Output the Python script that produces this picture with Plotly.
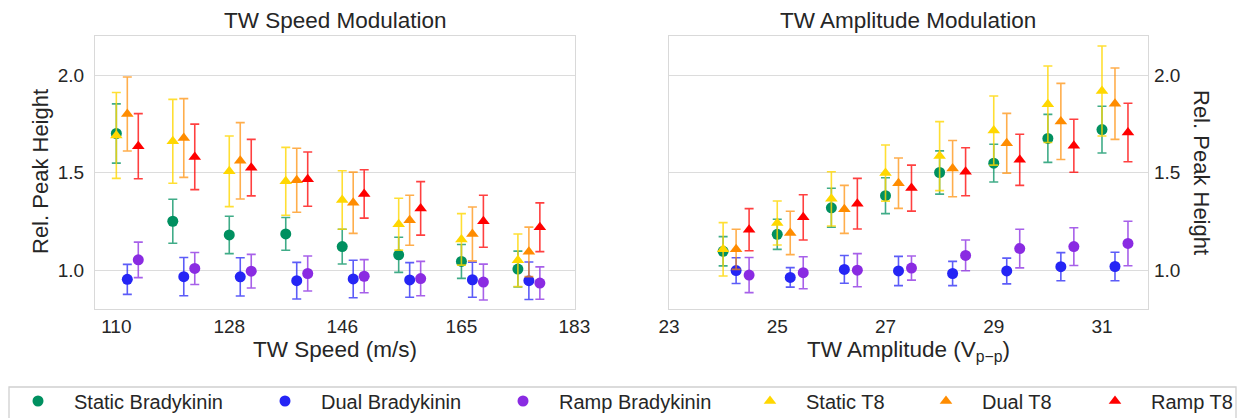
import plotly.graph_objects as go

# ---------------- data ----------------
speeds = [110, 119, 128, 137, 146, 155, 165, 174]
amplitudes = [24, 25, 26, 27, 28, 29, 30, 31]

speed_ticks = [110, 128, 146, 165, 183]
amp_ticks = [23, 25, 27, 29, 31]
y_ticks = [1.0, 1.5, 2.0]

series_names = ["Static Bradykinin", "Dual Bradykinin", "Ramp Bradykinin",
                "Static T8", "Dual T8", "Ramp T8"]

# TW speed modulation (mean, error)
static_bk_speed = [1.70, 1.25, 1.18, 1.185, 1.12, 1.078, 1.044, 1.005]
static_bk_speed_err = [0.152, 0.113, 0.096, 0.084, 0.089, 0.090, 0.087, 0.092]
dual_bk_speed = [0.952, 0.966, 0.965, 0.945, 0.954, 0.949, 0.950, 0.945]
dual_bk_speed_err = [0.077, 0.098, 0.098, 0.094, 0.096, 0.089, 0.090, 0.096]
ramp_bk_speed = [1.052, 1.008, 0.994, 0.982, 0.968, 0.956, 0.938, 0.933]
ramp_bk_speed_err = [0.091, 0.082, 0.086, 0.090, 0.085, 0.088, 0.092, 0.083]
static_t8_speed = [1.69, 1.66, 1.506, 1.455, 1.359, 1.235, 1.157, 1.05]
static_t8_speed_err = [0.220, 0.215, 0.181, 0.174, 0.150, 0.133, 0.132, 0.135]
dual_t8_speed = [1.80, 1.677, 1.56, 1.46, 1.345, 1.255, 1.185, 1.093]
dual_t8_speed_err = [0.190, 0.202, 0.196, 0.164, 0.157, 0.128, 0.138, 0.127]
ramp_t8_speed = [1.635, 1.58, 1.525, 1.466, 1.39, 1.316, 1.25, 1.219]
ramp_t8_speed_err = [0.167, 0.168, 0.145, 0.139, 0.124, 0.137, 0.133, 0.125]

# TW amplitude modulation (mean, error)
static_bk_amp = [1.096, 1.183, 1.319, 1.381, 1.50, 1.548, 1.675, 1.72]
static_bk_amp_err = [0.075, 0.077, 0.100, 0.092, 0.111, 0.097, 0.123, 0.120]
dual_bk_amp = [0.997, 0.962, 1.003, 0.995, 0.982, 0.995, 1.017, 1.018]
dual_bk_amp_err = [0.066, 0.050, 0.071, 0.075, 0.062, 0.066, 0.072, 0.073]
ramp_bk_amp = [0.974, 0.986, 0.999, 1.010, 1.075, 1.110, 1.120, 1.136]
ramp_bk_amp_err = [0.090, 0.082, 0.085, 0.062, 0.079, 0.099, 0.097, 0.114]
static_t8_amp = [1.106, 1.241, 1.365, 1.497, 1.584, 1.715, 1.85, 1.918]
static_t8_amp_err = [0.137, 0.113, 0.139, 0.144, 0.177, 0.177, 0.196, 0.231]
dual_t8_amp = [1.106, 1.19, 1.311, 1.445, 1.52, 1.65, 1.762, 1.853]
dual_t8_amp_err = [0.103, 0.111, 0.123, 0.129, 0.144, 0.153, 0.195, 0.183]
ramp_t8_amp = [1.207, 1.27, 1.34, 1.42, 1.504, 1.565, 1.637, 1.705]
ramp_t8_amp_err = [0.108, 0.116, 0.130, 0.118, 0.123, 0.131, 0.136, 0.150]

# ---------------- style ----------------
W, H = 1245, 418
FONT = "Liberation Sans, Arial, sans-serif"
TXT = "#262626"
colors = ["#009060", "#2525f5", "#8a2be2", "#ffd700", "#ff8c00", "#ff0000"]
err_colors = ["rgba(0,144,96,0.75)", "rgba(37,37,245,0.75)", "rgba(138,43,226,0.75)",
              "rgba(255,215,0,0.8)", "rgba(255,140,0,0.7)", "rgba(255,0,0,0.75)"]
symbols = ["circle", "circle", "circle", "triangle-up", "triangle-up", "triangle-up"]
speed_offsets = [0.0, 1.75, 3.5, 0.0, 1.75, 3.5]
amp_offsets = [0.0, 0.24, 0.48, 0.0, 0.24, 0.48]

speed_vals = [static_bk_speed, dual_bk_speed, ramp_bk_speed,
              static_t8_speed, dual_t8_speed, ramp_t8_speed]
speed_errs = [static_bk_speed_err, dual_bk_speed_err, ramp_bk_speed_err,
              static_t8_speed_err, dual_t8_speed_err, ramp_t8_speed_err]
amp_vals = [static_bk_amp, dual_bk_amp, ramp_bk_amp,
            static_t8_amp, dual_t8_amp, ramp_t8_amp]
amp_errs = [static_bk_amp_err, dual_bk_amp_err, ramp_bk_amp_err,
            static_t8_amp_err, dual_t8_amp_err, ramp_t8_amp_err]

legend_ids = ["legend", "legend2", "legend3", "legend4", "legend5", "legend6"]
legend_marker_px = [38, 285, 523, 770, 946, 1115]

fig = go.Figure()
for i, name in enumerate(series_names):
    for panel in range(2):
        xs = speeds if panel == 0 else amplitudes
        off = speed_offsets[i] if panel == 0 else amp_offsets[i]
        vals = speed_vals[i] if panel == 0 else amp_vals[i]
        errs = speed_errs[i] if panel == 0 else amp_errs[i]
        fig.add_trace(go.Scatter(
            x=[v + off for v in xs], y=vals,
            mode="markers", name=name,
            marker=dict(symbol=symbols[i], size=11, color=colors[i], line=dict(width=0)),
            error_y=dict(type="data", array=errs, visible=True, color=err_colors[i],
                         thickness=1.6, width=4.5),
            xaxis="x" if panel == 0 else "x2",
            yaxis="y" if panel == 0 else "y2",
            showlegend=(panel == 0),
            legend=legend_ids[i],
            legendgroup=name,
        ))

def px_x(p):
    return p / W

def px_y(p):
    return 1 - p / H

axis_common = dict(
    showline=True, mirror=True, linecolor="#d9d9d9", linewidth=1.3,
    tickfont=dict(family=FONT, size=19, color=TXT), zeroline=False, automargin=False,
)
TITLE_SIZE = 22.5

layout = dict(
    width=W, height=H,
    margin=dict(l=0, r=0, t=0, b=0, autoexpand=False),
    paper_bgcolor="white", plot_bgcolor="white",
    font=dict(family=FONT, color=TXT),
    xaxis=dict(domain=[px_x(95), px_x(575)], range=[106.6, 183.1],
               tickvals=speed_ticks, ticktext=[str(t) for t in speed_ticks],
               showgrid=False, ticks="", 
               title=dict(text="TW Speed (m/s)", font=dict(family=FONT, size=TITLE_SIZE, color=TXT), standoff=2),
               anchor="y", **axis_common),
    yaxis=dict(domain=[px_y(309), px_y(36)], range=[0.8, 2.2],
               tickvals=y_ticks, ticktext=["1.0", "1.5", "2.0"],
               showgrid=True, gridcolor="#dcdcdc", gridwidth=1.3,
               ticks="outside", ticklen=6, tickcolor="rgba(0,0,0,0)",
               anchor="x", **axis_common),
    xaxis2=dict(domain=[px_x(669), px_x(1148)], range=[23.0, 31.85],
                tickvals=amp_ticks, ticktext=[str(t) for t in amp_ticks],
                showgrid=False, ticks="",
                title=dict(text="TW Amplitude (V<sub>p\u2212p</sub>)", font=dict(family=FONT, size=TITLE_SIZE, color=TXT), standoff=2),
                anchor="y2", **axis_common),
    yaxis2=dict(domain=[px_y(309), px_y(36)], range=[0.8, 2.2],
                tickvals=y_ticks, ticktext=["1.0", "1.5", "2.0"],
                showgrid=True, gridcolor="#dcdcdc", gridwidth=1.3, side="right",
                ticks="outside", ticklen=1, tickcolor="rgba(0,0,0,0)",
                anchor="x2", **axis_common),
    annotations=[
        dict(text="TW Speed Modulation", x=px_x(335), y=px_y(21), xref="paper", yref="paper",
             showarrow=False, font=dict(family=FONT, size=TITLE_SIZE, color=TXT), xanchor="center", yanchor="middle"),
        dict(text="TW Amplitude Modulation", x=px_x(908), y=px_y(21), xref="paper", yref="paper",
             showarrow=False, font=dict(family=FONT, size=TITLE_SIZE, color=TXT), xanchor="center", yanchor="middle"),
        dict(text="Rel. Peak Height", x=px_x(41), y=px_y(172), xref="paper", yref="paper",
             showarrow=False, textangle=-90, font=dict(family=FONT, size=22, color=TXT),
             xanchor="center", yanchor="middle"),
        dict(text="Rel. Peak Height", x=px_x(1201), y=px_y(172), xref="paper", yref="paper",
             showarrow=False, textangle=90, font=dict(family=FONT, size=22, color=TXT),
             xanchor="center", yanchor="middle"),
    ],
    shapes=[
        dict(type="rect", xref="paper", yref="paper",
             x0=px_x(9), x1=px_x(1236), y0=px_y(425), y1=px_y(387),
             line=dict(color="#d0d0d0", width=1.3), fillcolor="white", layer="below"),
    ],
)

for lid, mx in zip(legend_ids, legend_marker_px):
    layout[lid] = dict(
        xref="container", yref="container",
        x=(mx - 36) / W, xanchor="left",
        y=1 - 401 / H, yanchor="middle",
        bgcolor="rgba(0,0,0,0)", borderwidth=0,
        font=dict(family=FONT, size=20, color=TXT),
        itemwidth=62,
    )

fig.update_layout(**layout)
fig.write_html("out.html")
